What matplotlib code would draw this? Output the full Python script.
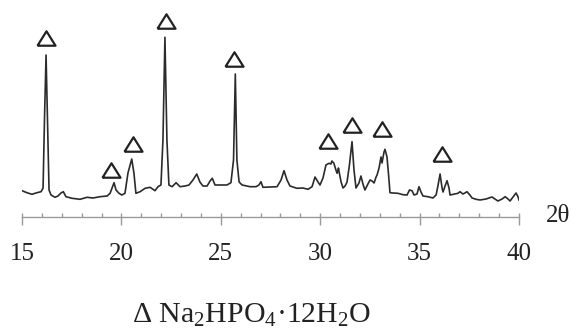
import matplotlib
matplotlib.use("Agg")
import matplotlib.pyplot as plt
from matplotlib.ticker import MultipleLocator

plt.rcParams['font.family'] = ['Liberation Serif', 'DejaVu Serif']
plt.rcParams['mathtext.fontset'] = 'custom'
plt.rcParams['mathtext.rm'] = 'Liberation Serif'
plt.rcParams['mathtext.default'] = 'regular'

# XRD trace (2theta, intensity in arbitrary units)
two_theta = [
    15.00, 15.25, 15.50, 15.75, 15.96, 16.06, 16.13, 16.21, 16.28, 16.36,
    16.46, 16.66, 16.81, 16.96, 17.08, 17.21, 17.52, 17.92, 18.27, 18.57,
    18.92, 19.28, 19.43, 19.53, 19.63, 19.73, 19.88, 20.02, 20.18, 20.33,
    20.52, 20.63, 20.73, 20.94, 21.19, 21.44, 21.69, 21.84, 21.99, 22.09,
    22.19, 22.29, 22.39, 22.55, 22.75, 22.95, 23.20, 23.40, 23.60, 23.79,
    23.95, 24.10, 24.31, 24.46, 24.57, 24.71, 24.96, 25.31, 25.51, 25.64,
    25.73, 25.81, 25.92, 26.07, 26.47, 26.77, 26.92, 27.02, 27.12, 27.47,
    27.83, 28.03, 28.18, 28.33, 28.48, 28.83, 29.13, 29.39, 29.59, 29.74,
    29.89, 29.99, 30.14, 30.29, 30.44, 30.54, 30.59, 30.69, 30.79, 30.85,
    30.92, 30.95, 31.05, 31.15, 31.25, 31.35, 31.47, 31.60, 31.70, 31.80,
    31.95, 32.05, 32.15, 32.25, 32.40, 32.51, 32.61, 32.71, 32.81, 32.86,
    32.96, 33.06, 33.11, 33.21, 33.26, 33.36, 33.44, 33.51, 33.66, 33.91,
    34.17, 34.37, 34.49, 34.62, 34.72, 34.87, 34.97, 35.07, 35.17, 35.42,
    35.67, 35.83, 35.93, 36.03, 36.13, 36.18, 36.28, 36.38, 36.48, 36.53,
    36.78, 36.93, 37.03, 37.18, 37.28, 37.38, 37.53, 37.64, 37.84, 38.04,
    38.34, 38.64, 38.79, 38.94, 39.15, 39.30, 39.45, 39.55, 39.75, 39.85,
    39.95, 40.00,
]
intensity = [
    26.3, 24.3, 22.7, 24.3, 25.3, 29.0, 97.0, 162.0, 97.0, 27.0,
    22.0, 19.7, 21.0, 24.0, 25.3, 20.3, 18.7, 17.7, 19.7, 19.0,
    20.3, 21.0, 23.7, 29.0, 34.3, 27.0, 23.7, 22.0, 23.7, 44.0,
    58.0, 44.0, 23.7, 25.3, 28.7, 29.7, 26.3, 30.3, 32.0, 77.0,
    179.7, 77.0, 32.0, 30.3, 34.3, 30.3, 31.0, 32.0, 37.0, 43.0,
    35.0, 31.0, 31.0, 36.0, 38.7, 32.0, 32.0, 32.0, 34.3, 57.0,
    143.0, 57.0, 35.0, 32.0, 30.3, 30.3, 32.0, 35.3, 29.7, 30.0,
    30.3, 37.0, 46.3, 37.0, 31.0, 28.7, 29.0, 27.7, 30.3, 40.0,
    35.0, 32.0, 39.0, 52.0, 53.7, 53.0, 56.0, 53.7, 47.0, 43.7,
    49.0, 45.3, 35.0, 29.0, 31.0, 35.0, 52.0, 75.3, 47.0, 29.0,
    34.0, 41.0, 33.0, 27.0, 33.0, 37.0, 36.0, 34.0, 40.0, 42.0,
    49.0, 60.0, 54.0, 65.0, 67.7, 60.0, 42.0, 24.3, 24.0, 23.7,
    22.3, 22.0, 27.0, 26.3, 22.0, 23.0, 30.3, 25.0, 21.0, 20.3,
    19.0, 22.0, 32.0, 43.0, 29.0, 25.0, 31.0, 36.3, 29.0, 22.0,
    23.0, 23.7, 25.3, 23.0, 24.0, 25.3, 22.0, 19.0, 17.7, 17.0,
    18.0, 20.0, 18.0, 16.0, 18.0, 20.3, 18.0, 16.0, 21.3, 24.0,
    20.3, 17.0,
]

# peaks marked as Na2HPO4·12H2O (triangle positions)
mark_theta = [16.21, 19.50, 20.56, 22.24, 25.66, 30.39, 31.60, 33.11, 36.13]
mark_level = [179, 47.5, 73.5, 196, 158.5, 76.5, 92, 88, 63.5]

x_ticks = [15, 20, 25, 30, 35, 40]

W, H = 572, 329
fig = plt.figure(figsize=(W / 100, H / 100), dpi=100)
ax = fig.add_axes([22 / W, (H - 217) / H, 497 / W, 207 / H])
ax.patch.set_alpha(0)

ax.plot(two_theta, intensity, color='#2b2b2b', lw=1.2)

tri = [(-1, -0.8), (1, -0.8), (0, 0.8), (-1, -0.8)]
ax.plot(mark_theta, mark_level, ls='none', marker=tri, markersize=13,
        markerfacecolor='none', markeredgecolor='#222222', markeredgewidth=1.6,
        clip_on=False)

ax.set_xlim(15, 40)
ax.set_ylim(0, 207)
for s in ['left', 'right', 'top']:
    ax.spines[s].set_visible(False)
ax.spines['bottom'].set_color('#9a9a9a')
ax.spines['bottom'].set_linewidth(1.0)
ax.set_yticks([])

ax.set_xticks(x_ticks)
ax.xaxis.set_minor_locator(MultipleLocator(1))
ax.xaxis.remove_overlapping_locs = False
ax.tick_params(axis='x', which='major', direction='out', length=6, width=1.0,
               color='#9a9a9a', labelsize=18, labelcolor='#222222', pad=13)
ax.tick_params(axis='x', which='minor', direction='in', length=3, width=1.0,
               color='#9a9a9a')

fig.text(558.5 / W, (H - 216.5) / H, '2θ', ha='center', va='center',
         fontsize=18, color='#222222')
fig.text(251.5 / W, (H - 323) / H, 'Δ Na$_2$HPO$_4$·12H$_2$O', ha='center',
         va='baseline', fontsize=21.5, color='#222222')

fig.savefig('out.png', dpi=100)
